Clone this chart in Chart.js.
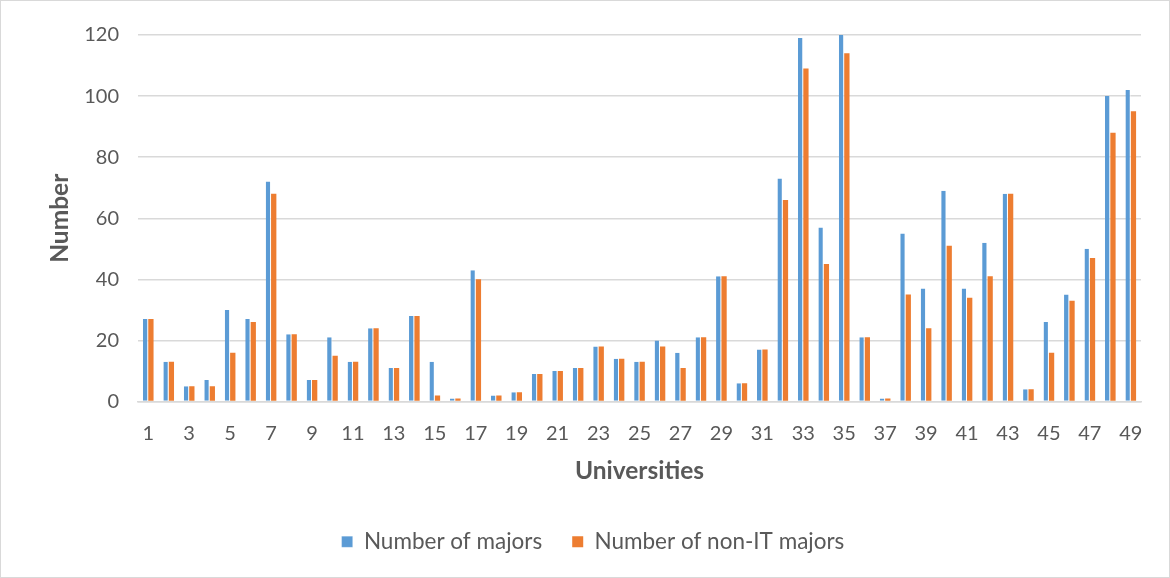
<!DOCTYPE html>
<html>
<head>
<meta charset="utf-8">
<title>Majors per university</title>
<script src="https://cdn.jsdelivr.net/npm/chart.js@4.4.1/dist/chart.umd.min.js"></script>
<style>
  html, body { margin: 0; padding: 0; background: #ffffff; }
  #frame {
    position: relative;
    width: 1168px;
    height: 576px;
    border: 1px solid #d9d9d9;
    background: #ffffff;
  }
  canvas { display: block; }
</style>
</head>
<body>
<div id="frame"><canvas id="chart" width="1168" height="576"></canvas></div>
<script>
// University numbers along the x axis
const universities = [
  '1','2','3','4','5','6','7','8','9','10',
  '11','12','13','14','15','16','17','18','19','20',
  '21','22','23','24','25','26','27','28','29','30',
  '31','32','33','34','35','36','37','38','39','40',
  '41','42','43','44','45','46','47','48','49'
];

// Total majors offered by each university
const numberOfMajors = [
  27, 13, 5, 7, 30, 27, 72, 22, 7, 21,
  13, 24, 11, 28, 13, 1, 43, 2, 3, 9,
  10, 11, 18, 14, 13, 20, 16, 21, 41, 6,
  17, 73, 119, 57, 120, 21, 1, 55, 37, 69,
  37, 52, 68, 4, 26, 35, 50, 100, 102
];

// Majors outside information technology
const numberOfNonITMajors = [
  27, 13, 5, 5, 16, 26, 68, 22, 7, 15,
  13, 24, 11, 28, 2, 1, 40, 2, 3, 9,
  10, 11, 18, 14, 13, 18, 11, 21, 41, 6,
  17, 66, 109, 45, 114, 21, 1, 35, 24, 51,
  34, 41, 68, 4, 16, 33, 47, 88, 95
];

// Value axis ticks
const yTicks = [0, 20, 40, 60, 80, 100, 120];

const seriesNames = ['Number of majors', 'Number of non-IT majors'];
const axisTitles = { x: 'Universities', y: 'Number' };

const textGrey = '#595959';
const gridGrey = '#d9d9d9';
const baseFont = 'Lato, "Open Sans", "Liberation Sans", sans-serif';

// Nudges the legend sideways so it sits centred under the whole frame
// rather than under the padded layout box.
const legendShift = {
  id: 'legendShift',
  afterLayout(chart, args, opts) {
    const lg = chart.legend;
    if (lg) {
      lg.left += opts.dx;
      lg.right += opts.dx;
    }
  }
};

new Chart(document.getElementById('chart'), {
  type: 'bar',
  plugins: [legendShift],
  data: {
    labels: universities,
    datasets: [
      {
        label: seriesNames[0],
        data: numberOfMajors,
        backgroundColor: '#5b9bd5',
        borderColor: 'rgba(255,255,255,0.7)',
        borderWidth: { top: 0, left: 0, right: 1, bottom: 0 },
        categoryPercentage: 0.52,
        barPercentage: 1.0
      },
      {
        label: seriesNames[1],
        data: numberOfNonITMajors,
        backgroundColor: '#ed7d31',
        borderWidth: 0,
        categoryPercentage: 0.52,
        barPercentage: 1.0
      }
    ]
  },
  options: {
    responsive: false,
    animation: false,
    devicePixelRatio: 1,
    layout: { padding: { left: 0, right: 28, top: 34, bottom: 14 } },
    plugins: {
      tooltip: { enabled: false },
      title: { display: false },
      legendShift: { dx: 22 },
      legend: {
        position: 'bottom',
        labels: {
          color: textGrey,
          font: { family: baseFont, size: 22.5 },
          boxWidth: 11,
          boxHeight: 11,
          padding: 30
        }
      }
    },
    scales: {
      x: {
        grid: { display: false, drawTicks: false },
        border: { display: true, color: gridGrey, width: 1.5 },
        ticks: {
          autoSkip: false,
          maxRotation: 0,
          minRotation: 0,
          padding: 20,
          color: textGrey,
          font: { family: baseFont, size: 20 },
          callback: function (value, index) {
            return index % 2 === 0 ? universities[index] : '';
          }
        },
        title: {
          display: true,
          text: axisTitles.x,
          color: textGrey,
          font: { family: baseFont, size: 24.5, weight: 'bold' },
          padding: { top: 0, bottom: 15 }
        },
        afterFit: function (scale) { scale.height = 99; }
      },
      y: {
        min: 0,
        max: 120,
        afterBuildTicks: function (scale) {
          scale.ticks = yTicks.map(function (v) { return { value: v }; });
        },
        grid: { color: gridGrey, lineWidth: 1.5, drawTicks: false },
        border: { display: false },
        ticks: {
          padding: 19,
          color: textGrey,
          font: { family: baseFont, size: 20 }
        },
        title: {
          display: true,
          text: axisTitles.y,
          color: textGrey,
          font: { family: baseFont, size: 24.5, weight: 'bold' },
          padding: { top: 44, bottom: 0 }
        },
        afterFit: function (scale) { scale.width = 137; }
      }
    }
  }
});
</script>
</body>
</html>
